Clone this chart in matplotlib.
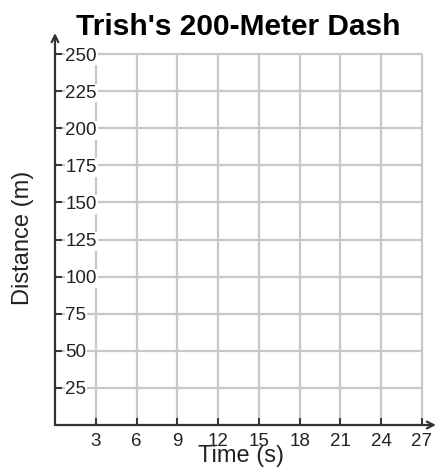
import matplotlib
matplotlib.use("Agg")
import matplotlib.pyplot as plt

# datos del gráfico (vacío, solo la cuadrícula)
time_ticks = [3, 6, 9, 12, 15, 18, 21, 24, 27]
distance_ticks = [25, 50, 75, 100, 125, 150, 175, 200, 225, 250]
title = "Trish's 200-Meter Dash"
xlabel = "Time (s)"
ylabel = "Distance (m)"

plt.rcParams['font.family'] = ['Liberation Sans', 'DejaVu Sans']

fig = plt.figure(figsize=(4.36, 4.70), dpi=100)
ax = fig.add_axes([55 / 436, 45 / 470, 381 / 436, 392 / 470])
ax.set_xlim(0, 28.03)
ax.set_ylim(0, 264.2)

grid_color = '#c8c8c8'
axis_color = '#333333'

# cuadrícula
ax.vlines(time_ticks, 0, distance_ticks[-1], color=grid_color, lw=1.6, zorder=1)
ax.hlines(distance_ticks, 0, time_ticks[-1], color=grid_color, lw=1.6, zorder=1)

# ejes con flechas
for s in ax.spines.values():
    s.set_visible(False)
ax.annotate('', xy=(0, 264.2), xytext=(0, 0),
            arrowprops=dict(arrowstyle='->', color=axis_color, lw=1.6,
                            shrinkA=0, shrinkB=0, mutation_scale=12),
            annotation_clip=False, zorder=3)
ax.annotate('', xy=(28.03, 0), xytext=(0, 0),
            arrowprops=dict(arrowstyle='->', color=axis_color, lw=1.6,
                            shrinkA=0, shrinkB=0, mutation_scale=12),
            annotation_clip=False, zorder=3)

# marcas
ax.set_xticks(time_ticks)
ax.set_xticklabels([str(t) for t in time_ticks])
ax.set_yticks(distance_ticks)
ax.set_yticklabels([str(d) for d in distance_ticks])
ax.tick_params(axis='both', direction='in', length=5, width=1.4,
               color=axis_color, labelsize=13.5, labelcolor='#222222')
ax.tick_params(axis='x', pad=6)
ax.tick_params(axis='y', pad=-7.5)
for lab in ax.get_yticklabels():
    lab.set_horizontalalignment('left')
    lab.set_bbox(dict(facecolor='white', edgecolor='none', pad=0.5))

# textos
fig.text(238 / 436, 1 - 35 / 470, title, fontsize=21.5, fontweight='bold',
         ha='center', va='baseline')
fig.text(240.5 / 436, 1 - 462 / 470, xlabel, fontsize=17, ha='center',
         va='baseline', color='#222222')
fig.text(23 / 436, 1 - 238 / 470, ylabel, fontsize=17, ha='center',
         va='center', rotation=90, color='#222222')

fig.savefig('out.png', dpi=100)
